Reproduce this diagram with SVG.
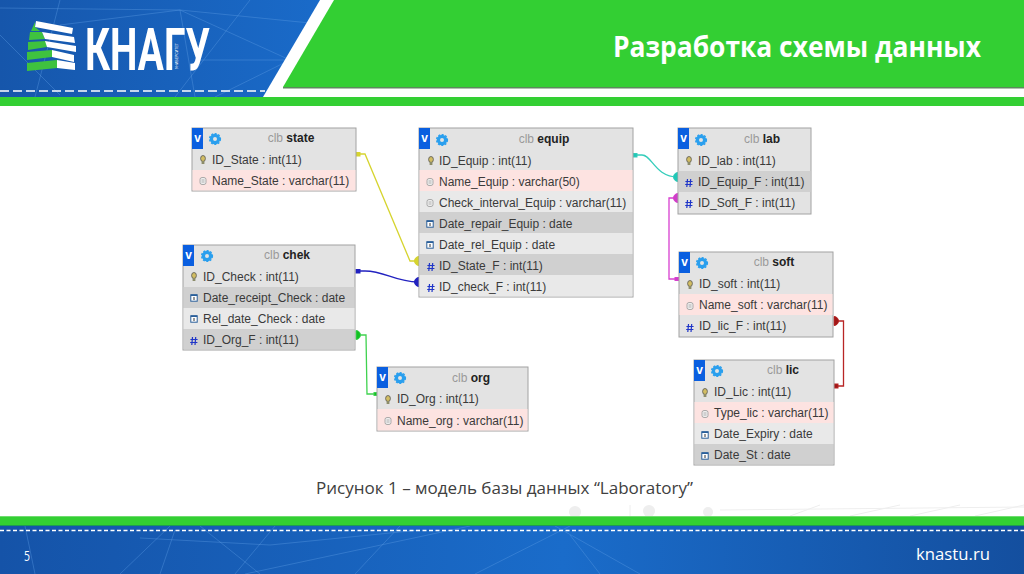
<svg xmlns="http://www.w3.org/2000/svg" width="1024" height="574" viewBox="0 0 1024 574">
<style>
.tt{font-family:"Liberation Sans",Arial,sans-serif;font-size:12px;fill:#3a3a3a}
.hd{font-family:"Liberation Sans",Arial,sans-serif;font-size:12px;fill:#9a9a9a;text-anchor:middle}
.hd tspan{font-weight:bold;fill:#222}
.v{font-family:"Liberation Sans",Arial,sans-serif;font-size:12px;font-weight:bold;fill:#fff;text-anchor:middle}
.box{fill:#e3e3e3;stroke:#a2a2a2;stroke-width:1}
.vb{fill:#0a5fe0}
.pink{fill:#fde3e1}
.dk{fill:#d0d0d0}
.lt{fill:#e9e9e9}
.gear{fill:none;stroke:#2a9fee;stroke-width:3.2}
.conn{fill:none;stroke-width:1.3}
.net{fill:none;stroke:#5f9fe6;stroke-width:1;opacity:.38}
.ui{font-family:"Open Sans","Liberation Sans",sans-serif;fill:#fff}
</style>
<defs>
<linearGradient id="blue" x1="0" x2="1" y1="0" y2="0"><stop offset="0" stop-color="#1553a8"/><stop offset=".55" stop-color="#1a6cca"/><stop offset="1" stop-color="#144f9f"/></linearGradient>
<linearGradient id="blueTop" x1="0" x2="1" y1="0" y2="0"><stop offset="0" stop-color="#1656ab"/><stop offset="1" stop-color="#1a6ccb"/></linearGradient>
<g id="key"><ellipse cx="0" cy="-1.5" rx="2.4" ry="3" fill="#d2bd62" stroke="#555" stroke-width=".8"/><rect x="-1.4" y="1" width="2.8" height="3" fill="#8c8c6a"/></g>
<g id="doc"><rect x="-3" y="-3.5" width="6" height="7" rx="2" fill="#eee" stroke="#999" stroke-width=".8"/><path d="M-1.5-1H1.5M-1.5 1H1.5" stroke="#999" stroke-width=".7"/></g>
<g id="cal"><rect x="-3.2" y="-3.2" width="6.4" height="6.4" fill="#fff" stroke="#2a5f9a" stroke-width="1"/><rect x="-3.2" y="-3.6" width="6.4" height="1.6" fill="#2a5f9a"/><path d="M0-1V2" stroke="#333"/></g>
<path id="hash" d="M-1.5-4-2.2 4M1.7-4 1 4M-3.6-1.5H3.6M-3.8 1.5H3.4" stroke="#1f35c8" stroke-width="1.2" fill="none"/>
<g id="gear"><circle r="3.6" class="gear"/><circle r="5.4" fill="none" stroke="#2a9fee" stroke-width="1.4" stroke-dasharray="2 1.5"/></g>
</defs>

<rect width="1024" height="574" fill="#fff"/>

<g id="header">
<rect width="340" height="97" fill="url(#blueTop)"/>
<path class="net" d="M0 35 60 95M60 0 35 97M180 10 195 97M180 10 290 60 215 97M60 25 180 10 330 25M195 60 290 60M250 0 175 97M0 8 180 10"/>
<polygon points="320,0 1024,0 1024,97 263,97" fill="#fff"/>
<polygon points="334,0 1024,0 1024,87 283,87" fill="#33cf33"/>
<rect x="283" y="87" width="741" height="1.5" fill="#5c8a5c"/>
<path d="M0 91H265" stroke="#fff" stroke-width="1.6" stroke-dasharray="9 4" fill="none"/>
<rect y="97" width="1024" height="9" fill="#33cf33"/>
<g id="logo">
<polygon points="35,22 35,27 40,31 31,31" fill="#3fc23f"/>
<polygon points="30,32 42,32 45,39 29,40" fill="#3fc23f"/>
<polygon points="28,42 46,41 47,47 28,50" fill="#3fc23f"/>
<polygon points="27,52 52,50 52,57 27,60" fill="#3fc23f"/>
<polygon points="27,63 57,60 57,68 27,71" fill="#3fc23f"/>
<polygon points="36,21 73,28 72,34 35,27" fill="#fff"/>
<polygon points="42,32 74,37 75,43 45,39" fill="#fff"/>
<polygon points="45,41 76,46 76,52 47,47" fill="#fff"/>
<polygon points="52,50 74,55 74,62 52,57" fill="#fff"/>
<polygon points="57,60 75,63 75,70 57,68" fill="#fff"/>
<text x="85" y="70" font-family="Roboto,'Liberation Sans',sans-serif" font-size="60" font-weight="700" fill="#fff" textLength="125" lengthAdjust="spacingAndGlyphs">КНАГУ</text>
<text transform="translate(178,69) rotate(-90)" font-family="'Liberation Sans',sans-serif" font-size="4" fill="#fff" textLength="26" lengthAdjust="spacingAndGlyphs">УНИВЕРСИТЕТ</text>
</g>
<text class="ui" x="613" y="57" font-size="28" font-weight="700" textLength="368" lengthAdjust="spacingAndGlyphs">Разработка схемы данных</text>
</g>

<g id="connectors">
<g stroke="#d6d42f" fill="#d6d42f"><path class="conn" d="M356 154H365L410 261H418"/><rect x="356" y="152.500" width="4" height="3.500"/><path d="M419 256.500A4.500 4.500 0 0 0 419 265.500Z"/></g>
<g stroke="#2222c0" fill="#2222c0"><path class="conn" d="M356 271H365C385 271 395 282 418 282"/><rect x="356" y="269.500" width="4" height="3.500"/><path d="M419 277.500A4.500 4.500 0 0 0 419 286.500Z"/></g>
<g stroke="#3fd24f" fill="#12c022"><path class="conn" d="M356 335H366L367 394H377"/><path d="M356 330.500A4.500 4.500 0 0 1 356 339.500Z"/><rect x="374" y="392.500" width="3" height="3"/></g>
<g stroke="#35cdbb" fill="#20c8b8"><path class="conn" d="M633 155H642C652 155 655 177 678 177"/><rect x="633" y="153.500" width="4" height="3.500"/><path d="M678 172.500A4.500 4.500 0 0 0 678 181.500Z"/></g>
<g stroke="#d83fd0" fill="#d03fc8"><path class="conn" d="M677 198H669V279H679"/><path d="M678 193.500A4.500 4.500 0 0 0 678 202.500Z"/><rect x="675" y="277.500" width="4" height="3"/></g>
<g stroke="#b82525" fill="#a01818"><path class="conn" d="M834 321H843.500V386H834"/><path d="M834 316.500A4.500 4.500 0 0 1 834 325.500Z"/><rect x="834" y="384" width="4" height="4"/></g>
</g>

<g id="clb-state">
<rect class="box" x="192" y="128" width="164" height="63"/>
<rect class="pink" x="192.500" y="170" width="163" height="20.500"/>
<rect class="vb" x="192" y="128" width="11" height="21"/><text class="v" x="197.500" y="142">v</text>
<use href="#gear" x="215" y="139"/>
<text class="hd" x="291" y="142">clb <tspan>state</tspan></text>
<use href="#key" x="203" y="160"/><text class="tt" x="212" y="164">ID_State : int(11)</text>
<use href="#doc" x="203" y="181"/><text class="tt" x="212" y="185">Name_State : varchar(11)</text>
</g>

<g id="clb-chek">
<rect class="box" x="183" y="245" width="172" height="105"/>
<rect class="dk" x="183.500" y="287" width="171" height="21"/>
<rect class="lt" x="183.500" y="308" width="171" height="21"/>
<rect class="dk" x="183.500" y="329" width="171" height="20.500"/>
<rect class="vb" x="183" y="245" width="11" height="21"/><text class="v" x="188.500" y="259">v</text>
<use href="#gear" x="207" y="256"/>
<text class="hd" x="287" y="259">clb <tspan>chek</tspan></text>
<use href="#key" x="194" y="277"/><text class="tt" x="203" y="281">ID_Check : int(11)</text>
<use href="#cal" x="194" y="298"/><text class="tt" x="203" y="302">Date_receipt_Check : date</text>
<use href="#cal" x="194" y="319"/><text class="tt" x="203" y="323">Rel_date_Check : date</text>
<use href="#hash" x="194" y="341"/><text class="tt" x="203" y="344">ID_Org_F : int(11)</text>
</g>

<g id="clb-equip">
<rect class="box" x="419" y="128" width="214" height="169"/>
<rect class="pink" x="419.500" y="170" width="213" height="21"/>
<rect class="lt" x="419.500" y="191" width="213" height="21"/>
<rect class="dk" x="419.500" y="212" width="213" height="21"/>
<rect class="lt" x="419.500" y="233" width="213" height="21"/>
<rect class="dk" x="419.500" y="254" width="213" height="21"/>
<rect class="lt" x="419.500" y="275" width="213" height="21.500"/>
<rect class="vb" x="419" y="128" width="11" height="21"/><text class="v" x="424.500" y="142">v</text>
<use href="#gear" x="442" y="140"/>
<text class="hd" x="544" y="143">clb <tspan>equip</tspan></text>
<use href="#key" x="431" y="161"/><text class="tt" x="439" y="165">ID_Equip : int(11)</text>
<use href="#doc" x="430" y="182"/><text class="tt" x="439" y="186">Name_Equip : varchar(50)</text>
<use href="#doc" x="430" y="203"/><text class="tt" x="439" y="207">Check_interval_Equip : varchar(11)</text>
<use href="#cal" x="430" y="224"/><text class="tt" x="439" y="228">Date_repair_Equip : date</text>
<use href="#cal" x="430" y="245"/><text class="tt" x="439" y="249">Date_rel_Equip : date</text>
<use href="#hash" x="431" y="267"/><text class="tt" x="439" y="270">ID_State_F : int(11)</text>
<use href="#hash" x="431" y="288"/><text class="tt" x="439" y="291">ID_check_F : int(11)</text>
</g>

<g id="clb-lab">
<rect class="box" x="678" y="128" width="133" height="86"/>
<rect class="dk" x="678.500" y="171" width="132" height="21"/>
<rect class="vb" x="678" y="128" width="11" height="21"/><text class="v" x="683.500" y="142">v</text>
<use href="#gear" x="701" y="140"/>
<text class="hd" x="762" y="143">clb <tspan>lab</tspan></text>
<use href="#key" x="689" y="161"/><text class="tt" x="698" y="165">ID_lab : int(11)</text>
<use href="#hash" x="689" y="183"/><text class="tt" x="698" y="186">ID_Equip_F : int(11)</text>
<use href="#hash" x="689" y="204"/><text class="tt" x="698" y="207">ID_Soft_F : int(11)</text>
</g>

<g id="clb-soft">
<rect class="box" x="679" y="252" width="154" height="85"/>
<rect class="pink" x="679.500" y="294" width="153" height="21"/>
<rect class="vb" x="679" y="252" width="11" height="21"/><text class="v" x="684.500" y="266">v</text>
<use href="#gear" x="702" y="263"/>
<text class="hd" x="774" y="266">clb <tspan>soft</tspan></text>
<use href="#key" x="690" y="285"/><text class="tt" x="699" y="288">ID_soft : int(11)</text>
<use href="#doc" x="690" y="306"/><text class="tt" x="699" y="309">Name_soft : varchar(11)</text>
<use href="#hash" x="690" y="328"/><text class="tt" x="699" y="330">ID_lic_F : int(11)</text>
</g>

<g id="clb-lic">
<rect class="box" x="694" y="360" width="140" height="105"/>
<rect class="pink" x="694.500" y="402" width="139" height="21"/>
<rect class="lt" x="694.500" y="423" width="139" height="21"/>
<rect class="dk" x="694.500" y="444" width="139" height="20.500"/>
<rect class="vb" x="694" y="360" width="11" height="21"/><text class="v" x="699.500" y="374">v</text>
<use href="#gear" x="717" y="371"/>
<text class="hd" x="783" y="374">clb <tspan>lic</tspan></text>
<use href="#key" x="705" y="393"/><text class="tt" x="714" y="396">ID_Lic : int(11)</text>
<use href="#doc" x="705" y="414"/><text class="tt" x="714" y="417">Type_lic : varchar(11)</text>
<use href="#cal" x="705" y="435"/><text class="tt" x="714" y="438">Date_Expiry : date</text>
<use href="#cal" x="705" y="456"/><text class="tt" x="714" y="459">Date_St : date</text>
</g>

<g id="clb-org">
<rect class="box" x="377" y="367" width="151" height="64"/>
<rect class="pink" x="377.500" y="409" width="150" height="21.500"/>
<rect class="vb" x="377" y="367" width="11" height="21"/><text class="v" x="382.500" y="381">v</text>
<use href="#gear" x="400" y="378"/>
<text class="hd" x="471" y="382">clb <tspan>org</tspan></text>
<use href="#key" x="388" y="400"/><text class="tt" x="397" y="403">ID_Org : int(11)</text>
<use href="#doc" x="388" y="421"/><text class="tt" x="397" y="425">Name_org : varchar(11)</text>
</g>

<text id="caption" x="316" y="494" font-family="'Open Sans','Liberation Sans',sans-serif" font-size="15.500" fill="#404040" textLength="377" lengthAdjust="spacingAndGlyphs">Рисунок 1 – модель базы данных “Laboratory”</text>

<g id="footer">
<path d="M630 516V505M720 510L1024 507M790 516L820 505M850 516L900 505M910 516L960 505M975 516L1024 505" stroke="#eeeeee" stroke-width="1" fill="none"/>
<circle cx="575" cy="512" r="6" fill="#eeeeee"/><circle cx="649" cy="511" r="6" fill="#eeeeee"/><circle cx="708" cy="512" r="5" fill="#eeeeee"/>
<rect y="526" width="1024" height="48" fill="url(#blue)"/>
<path class="net" d="M25 526 35 574M170 526 120 574M175 530 160 574M200 526 260 574M275 526 235 574M140 538 270 545 420 530M400 526 355 574M470 526 245 574M475 574 570 526M570 535 600 574M555 526 640 574"/>
<rect y="516" width="1024" height="10" fill="#33cf33"/>
<rect y="516" width="1024" height="1" fill="#6fdc6f"/>
<rect y="525" width="1024" height="1" fill="#1f9a55"/>
<path d="M0 530.500H1024" stroke="#fff" stroke-width="1.600" stroke-dasharray="4 2.500" fill="none"/>
<text class="ui" x="24" y="561" font-size="14" textLength="6" lengthAdjust="spacingAndGlyphs">5</text>
<text class="ui" x="916" y="560" font-size="17" textLength="74" lengthAdjust="spacingAndGlyphs">knastu.ru</text>
</g>
</svg>
